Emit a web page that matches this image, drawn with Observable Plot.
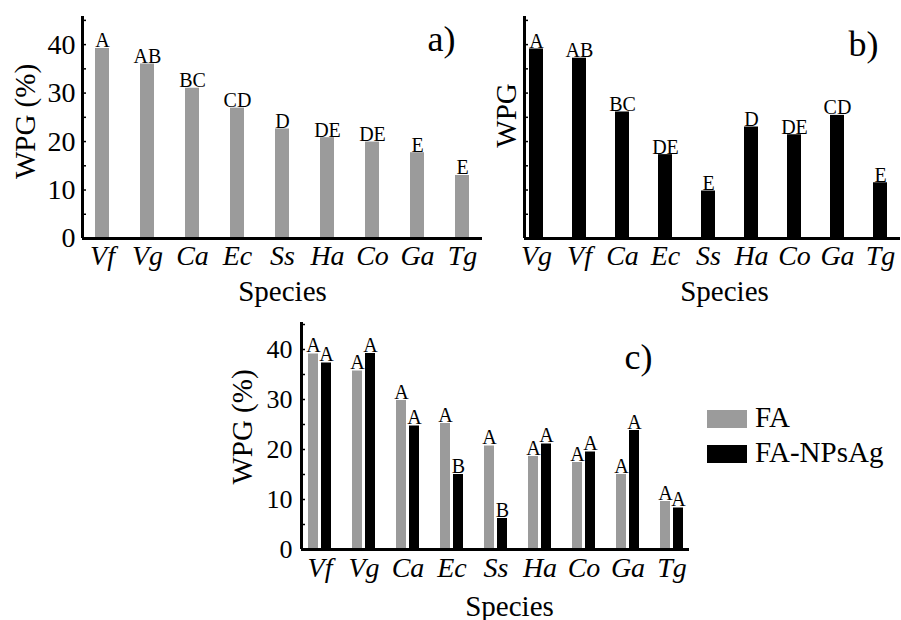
<!DOCTYPE html>
<html><head><meta charset="utf-8">
<script src="https://cdn.jsdelivr.net/npm/d3@7"></script>
<script src="https://cdn.jsdelivr.net/npm/@observablehq/plot@0.6"></script>
<style>
body{margin:0;background:#fff;}
#wrap{position:relative;width:901px;height:620px;overflow:hidden;background:#fff;font-family:'Liberation Serif', serif;color:#000;}
#wrap svg{position:absolute;max-width:none;}
.sw{position:absolute;width:40px;height:18px;}
.lt{position:absolute;font-family:'Liberation Serif', serif;font-size:29px;line-height:29px;white-space:nowrap;}
</style></head><body><div id="wrap"></div>
<script>
// ---- data ----
const speciesA = ["Vf","Vg","Ca","Ec","Ss","Ha","Co","Ga","Tg"];
const wpgA = [39.2,36.0,31.0,26.9,22.6,20.8,19.9,17.7,13.0];
const lettersA = ["A","AB","BC","CD","D","DE","DE","E","E"];

const speciesB = ["Vg","Vf","Ca","Ec","Ss","Ha","Co","Ga","Tg"];
const wpgB = [39.1,37.2,26.1,17.3,9.8,23.0,21.4,25.4,11.5];
const lettersB = ["A","AB","BC","DE","E","D","DE","CD","E"];

const speciesC = ["Vf","Vg","Ca","Ec","Ss","Ha","Co","Ga","Tg"];
const wpgFA = [39.1,35.7,29.8,25.2,20.7,18.6,17.4,15.0,9.6];
const wpgNP = [37.3,39.2,24.7,15.0,6.2,21.1,19.5,23.8,8.3];
const lettersFA = ["A","A","A","A","A","A","A","A","A"];
const lettersNP = ["A","A","A","B","B","A","A","A","A"];
const seriesNames = ["FA","FA-NPsAg"];

const majorTicks = [0,10,20,30,40];
const minorTicks = [5,10,15,20,25,30,35,40,45];

const GRAY = "#9b9b9b", BLACK = "#000000";
const FONT = "Liberation Serif, serif";
const ff = {fontFamily: FONT};
const wrap = document.getElementById("wrap");

function place(el, left, top){
  el.style.left = left+"px"; el.style.top = top+"px";
  wrap.appendChild(el);
}
const baseStyle = {fontFamily:FONT,background:"transparent",color:"#000",overflow:"visible"};

// ---- panel a ----
const dataA = speciesA.map((s,i)=>({species:s, wpg:wpgA[i], letter:lettersA[i]}));
{
  const W=490,H=310,mL=82,mR=8,mT=16,mB=72, fw=W-mL-mR;
  const p = Plot.plot({
    width:W,height:H,marginLeft:mL,marginRight:mR,marginTop:mT,marginBottom:mB,
    style:baseStyle,
    x:{type:"band",domain:speciesA,paddingInner:0.693,paddingOuter:0.232,align:0.5},
    y:{domain:[0,45.8]},
    marks:[
      Plot.barY(dataA,{x:"species",y:"wpg",fill:GRAY}),
      Plot.text(dataA,{x:"species",y:"wpg",text:"letter",lineAnchor:"bottom",dy:-1,fontSize:20,...ff}),
      Plot.ruleY([0],{strokeWidth:3}),
      Plot.ruleX([null],{x:null,dx:-fw/2,strokeWidth:3}),
      Plot.tickY(minorTicks,{insetRight:fw-4,strokeWidth:1.5}),
      Plot.axisY(majorTicks,{tickSize:0,tickPadding:7,fontSize:28,label:null,...ff}),
      Plot.axisX({tickSize:0,tickPadding:7,fontSize:28,fontStyle:"italic",label:null,...ff}),
      Plot.text(["WPG (%)"],{frameAnchor:"left",textAnchor:"middle",rotate:-90,dx:-57,dy:-6,fontSize:29,...ff}),
      Plot.text(["Species"],{frameAnchor:"bottom",textAnchor:"middle",lineAnchor:"bottom",dy:62,fontSize:29,...ff}),
      Plot.text(["a)"],{frameAnchor:"top-right",textAnchor:"end",lineAnchor:"bottom",dx:-27,dy:34,fontSize:36,...ff})
    ]
  });
  place(p,0,0);
}

// ---- panel b ----
const dataB = speciesB.map((s,i)=>({species:s, wpg:wpgB[i], letter:lettersB[i]}));
{
  const W=411,H=310,mL=34,mR=1,mT=16,mB=72, fw=W-mL-mR;
  const p = Plot.plot({
    width:W,height:H,marginLeft:mL,marginRight:mR,marginTop:mT,marginBottom:mB,
    style:baseStyle,
    x:{type:"band",domain:speciesB,paddingInner:0.675,paddingOuter:0.2,align:0.29},
    y:{domain:[0,45.8],axis:null},
    marks:[
      Plot.barY(dataB,{x:"species",y:"wpg",fill:BLACK}),
      Plot.text(dataB,{x:"species",y:"wpg",text:"letter",lineAnchor:"bottom",dy:-1,fontSize:20,...ff}),
      Plot.ruleY([0],{strokeWidth:3}),
      Plot.ruleX([null],{x:null,dx:-fw/2,strokeWidth:3}),
      Plot.tickY(minorTicks,{insetRight:fw-4,strokeWidth:1.5}),
      Plot.axisX({tickSize:0,tickPadding:7,fontSize:28,fontStyle:"italic",label:null,...ff}),
      Plot.text(["WPG"],{frameAnchor:"left",textAnchor:"middle",rotate:-90,dx:-18,dy:-12,fontSize:29,...ff}),
      Plot.text(["Species"],{frameAnchor:"bottom",textAnchor:"middle",lineAnchor:"bottom",dx:12,dy:62,fontSize:29,...ff}),
      Plot.text(["b)"],{frameAnchor:"top-right",textAnchor:"end",lineAnchor:"bottom",dx:-22,dy:39,fontSize:36,...ff})
    ]
  });
  place(p,490,0);
}

// ---- panel c ----
const dataC = speciesC.map((s,i)=>({species:s, fa:wpgFA[i], np:wpgNP[i], lfa:lettersFA[i], lnp:lettersNP[i]}));
{
  const W=490,H=310,mL=81,mR=21,mT=12,mB=71, fw=W-mL-mR;
  const p = Plot.plot({
    width:W,height:H,marginLeft:mL,marginRight:mR,marginTop:mT,marginBottom:mB,
    style:baseStyle,
    x:{type:"band",domain:speciesC,paddingInner:0.48,paddingOuter:0.124,align:0.5},
    y:{domain:[0,45.4]},
    marks:[
      Plot.barY(dataC,{x:"species",y:"fa",fill:GRAY,insetRight:13}),
      Plot.barY(dataC,{x:"species",y:"np",fill:BLACK,insetLeft:13}),
      Plot.text(dataC,{x:"species",y:"fa",text:"lfa",dx:-6.5,lineAnchor:"bottom",dy:-2,fontSize:20,...ff}),
      Plot.text(dataC,{x:"species",y:"np",text:"lnp",dx:6.5,lineAnchor:"bottom",dy:-2,fontSize:20,...ff}),
      Plot.ruleY([0],{strokeWidth:3}),
      Plot.ruleX([null],{x:null,dx:-fw/2,strokeWidth:3}),
      Plot.tickY(minorTicks,{insetRight:fw-4,strokeWidth:1.5}),
      Plot.axisY(majorTicks,{tickSize:0,tickPadding:9,fontSize:26,label:null,...ff}),
      Plot.axisX({tickSize:0,tickPadding:8,fontSize:28,fontStyle:"italic",label:null,...ff}),
      Plot.text(["WPG (%)"],{frameAnchor:"left",textAnchor:"middle",rotate:-90,dx:-59,dy:-9,fontSize:29,...ff}),
      Plot.text(["Species"],{frameAnchor:"bottom",textAnchor:"middle",lineAnchor:"bottom",dx:14,dy:66,fontSize:29,...ff}),
      Plot.text(["c)"],{frameAnchor:"top-right",textAnchor:"end",lineAnchor:"bottom",dx:-37,dy:46,fontSize:36,...ff})
    ]
  });
  place(p,220,310);
}

// ---- legend ----
[[seriesNames[0],GRAY,410],[seriesNames[1],BLACK,445]].forEach(([name,col,top])=>{
  const s=document.createElement("div"); s.className="sw"; s.style.background=col; place(s,707,top);
  const t=document.createElement("div"); t.className="lt"; t.textContent=name; place(t,755,top-7.5);
});
</script></body></html>
